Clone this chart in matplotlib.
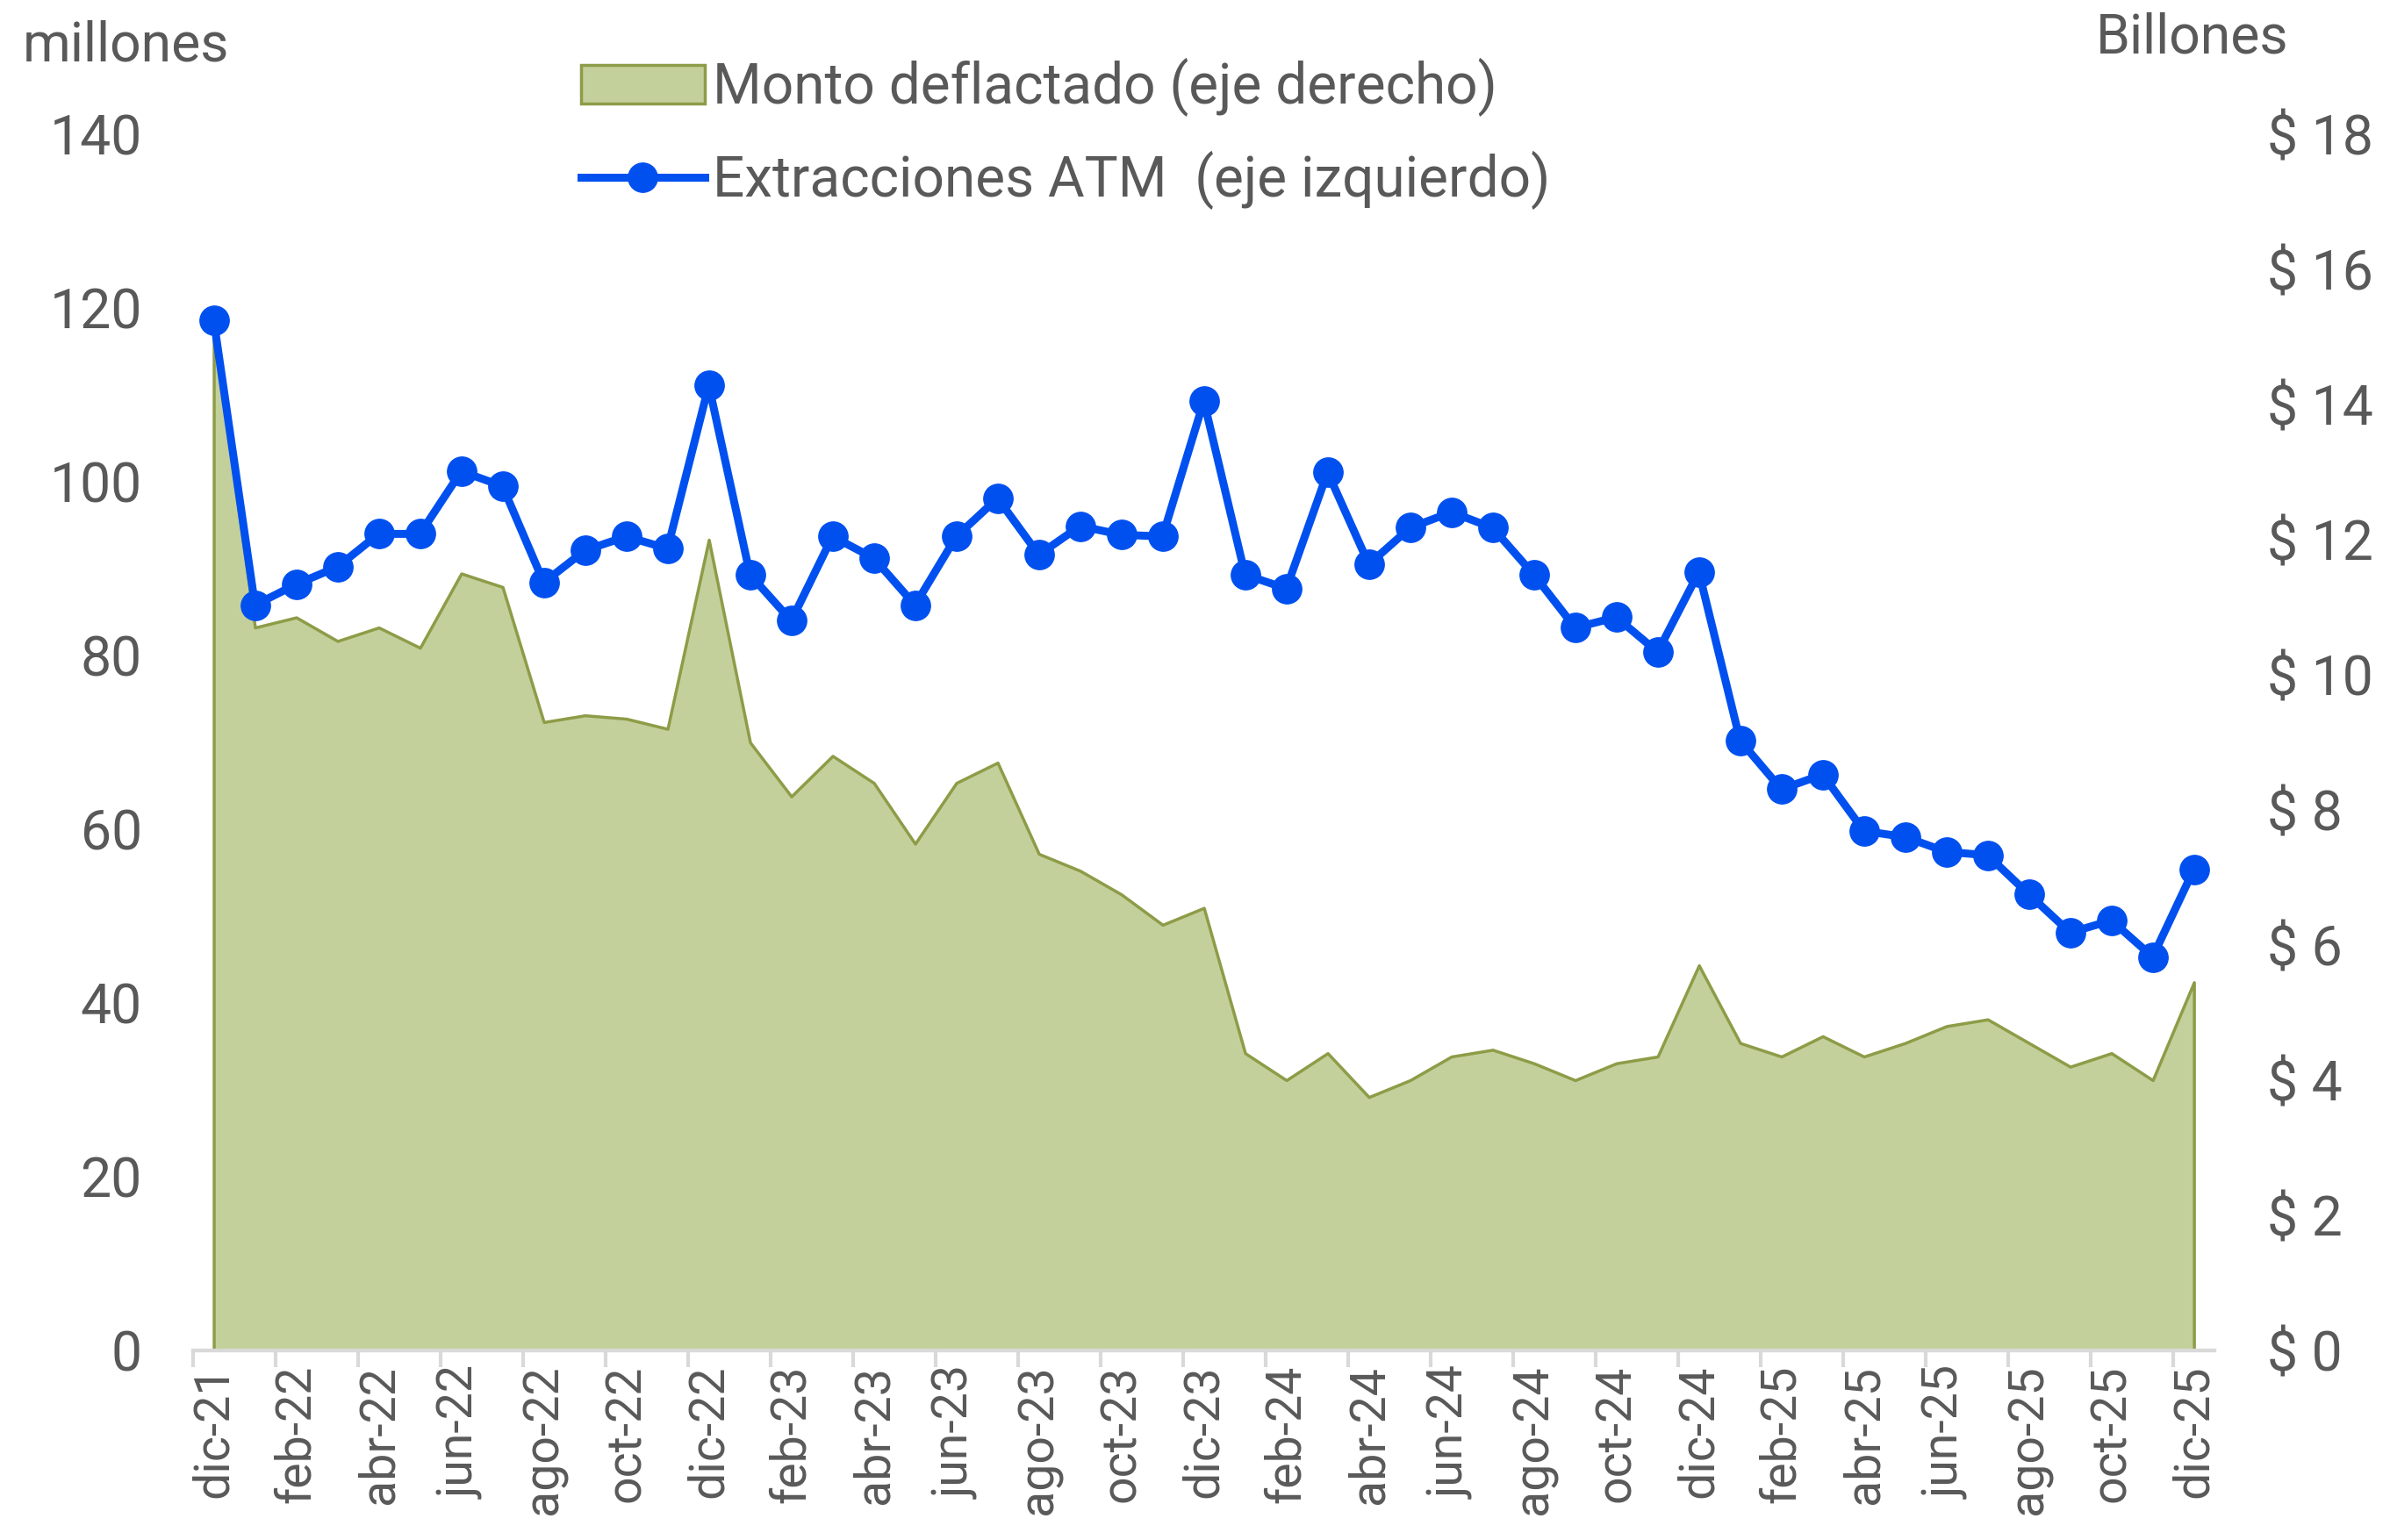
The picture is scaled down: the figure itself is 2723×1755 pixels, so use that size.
import numpy as np
import matplotlib
matplotlib.use("Agg")
import matplotlib.pyplot as plt
from matplotlib.ticker import FuncFormatter

plt.rcParams['font.family'] = ['Roboto', 'DejaVu Sans']

# meses dic-21 .. dic-25
meses = ['ene', 'feb', 'mar', 'abr', 'may', 'jun', 'jul', 'ago', 'sep', 'oct', 'nov', 'dic']
fechas = ['dic-21'] + [m + '-' + a for a in ['22', '23', '24', '25'] for m in meses]

# Extracciones ATM (millones, eje izquierdo)
extracciones = [118.6,
                85.8, 88.2, 90.2, 94.0, 94.0, 101.2, 99.5, 88.4, 92.1, 93.7, 92.3, 111.1,
                89.3, 84.0, 93.7, 91.2, 85.8, 93.7, 98.1, 91.6, 94.9, 93.9, 93.7, 109.3,
                89.3, 87.7, 101.1, 90.5, 94.7, 96.5, 94.7, 89.3, 83.2, 84.4, 80.4, 89.6,
                70.2, 64.6, 66.3, 59.8, 59.1, 57.4, 57.0, 52.5, 48.1, 49.5, 45.3, 55.4]

# Monto deflactado (billones, eje derecho)
monto = [15.1,
         10.7, 10.85, 10.5, 10.7, 10.4, 11.5, 11.3, 9.3, 9.4, 9.35, 9.2, 12.0,
         9.0, 8.2, 8.8, 8.4, 7.5, 8.4, 8.7, 7.35, 7.1, 6.75, 6.3, 6.55,
         4.4, 4.0, 4.4, 3.75, 4.0, 4.35, 4.45, 4.25, 4.0, 4.25, 4.35, 5.7,
         4.55, 4.35, 4.65, 4.35, 4.55, 4.8, 4.9, 4.55, 4.2, 4.4, 4.0, 5.45]

gris = '#595959'
azul = '#0050F0'
verde = '#c4d09b'
verde_borde = '#8d9c47'

x = np.arange(len(fechas))

fig = plt.figure(figsize=(27.23, 17.55), dpi=100)
ax = fig.add_axes([0.0808, 0.1231, 0.8458, 0.7897])
ax2 = ax.twinx()

# area on the right axis, behind the line
area = ax2.fill_between(x, 0, monto, facecolor=verde, edgecolor=verde_borde,
                        linewidth=2.5, label='Monto deflactado (eje derecho)')
linea, = ax.plot(x, extracciones, color=azul, linewidth=6.5, marker='o',
                 markersize=24, label='Extracciones ATM  (eje izquierdo)')
ax.set_zorder(ax2.get_zorder() + 1)
ax.patch.set_visible(False)

ax.set_xlim(-0.5, len(fechas) - 0.5)
ax.set_ylim(0, 140)
ax2.set_ylim(0, 18)
ax.set_yticks(np.arange(0, 141, 20))
ax2.set_yticks(np.arange(0, 19, 2))
ax2.yaxis.set_major_formatter(FuncFormatter(lambda v, p: '$ %d' % v))

ax.set_xticks(x[::2])
ax.set_xticklabels(fechas[::2], rotation=90)
ax.set_xticks(np.arange(-0.5, len(fechas) - 0.5, 2), minor=True)

for a in (ax, ax2):
    for s in ['top', 'left', 'right']:
        a.spines[s].set_visible(False)
    a.spines['bottom'].set_color('#d9d9d9')
    a.spines['bottom'].set_linewidth(3)
    a.tick_params(axis='y', length=0, labelsize=45, labelcolor=gris)
ax.tick_params(axis='y', pad=42)
ax2.tick_params(axis='y', pad=43)
ax.tick_params(axis='x', which='major', length=0, labelsize=40, labelcolor=gris, pad=12)
ax.tick_params(axis='x', which='minor', length=14, width=3, color='#d9d9d9')
ax2.tick_params(axis='x', length=0)
for lab in ax2.get_yticklabels():
    lab.set_horizontalalignment('left')

fig.text(0.0095, 0.970, 'millones', fontsize=45, color=gris, va='center', ha='left')
fig.text(0.877, 0.975, 'Billones', fontsize=45, color=gris, va='center', ha='left')

fig.legend([area, linea], ['Monto deflactado (eje derecho)', 'Extracciones ATM  (eje izquierdo)'],
           loc='upper left', bbox_to_anchor=(0.222, 0.995), frameon=False,
           fontsize=46, labelcolor=gris, handlelength=2.2, handletextpad=0.15,
           labelspacing=0.6)

fig.savefig('out.png', dpi=100)
